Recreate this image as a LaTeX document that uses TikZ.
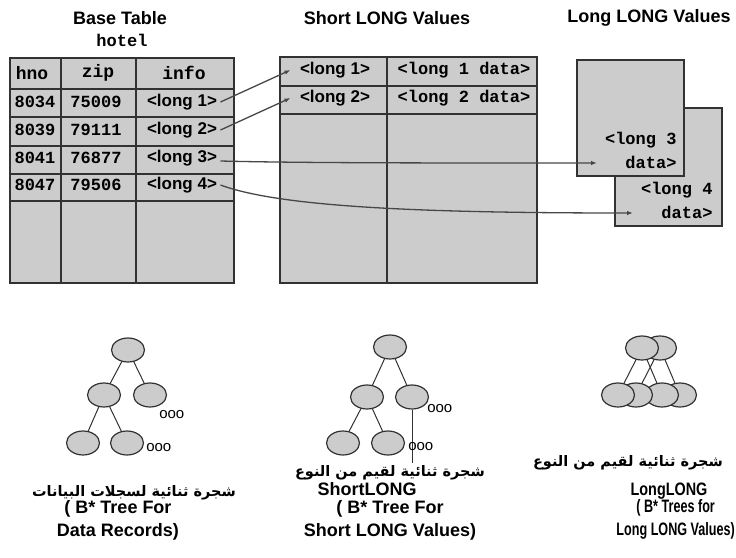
\documentclass[tikz,border=0pt]{standalone}
\usepackage{fontspec}
\setmainfont{Liberation Sans}
\newfontfamily\monofont{Liberation Mono}
\newfontfamily\arabicfont[Script=Arabic]{DejaVu Sans}
\TeXXeTstate=1
\usetikzlibrary{arrows.meta,shapes.geometric}

\definecolor{boxfill}{RGB}{204,204,204}
\definecolor{boxline}{RGB}{50,50,50}

\tikzset{
  title/.style={font=\bfseries\fontsize{18}{19}\selectfont},
  numcell/.style={font=\monofont\bfseries\fontsize{17}{24}\selectfont},
  headcell/.style={font=\monofont\bfseries\fontsize{18}{19}\selectfont},
  keycell/.style={font=\bfseries\fontsize{17}{18}\selectfont},
  tbl/.style={fill=boxfill, draw=boxline, line width=1.3pt},
  link/.style={draw=boxline!90, line width=1.3pt, -{Latex[length=6pt,width=4.5pt]}},
  leaf/.style={ellipse, draw=boxline, line width=1.2pt, fill=boxfill,
    minimum width=33pt, minimum height=24pt, inner sep=0pt},
  dots/.style={font=\fontsize{15}{15}\selectfont, inner sep=0pt},
  arab/.style={font=\arabicfont\bfseries\fontsize{14.5}{16}\selectfont, inner sep=0pt},
  caption/.style={font=\bfseries\fontsize{18}{23}\selectfont, align=center, inner sep=0pt}
}

\begin{document}
\begin{tikzpicture}[x=1pt, y=-1pt]
    \useasboundingbox (0,0) rectangle (736,557);

    % titles
    \node[title] (ttbase) at (120,18) {Base Table};
    \node[numcell] (tthotel) at (122,40) {hotel};
    \node[title] (ttshort) at (387,18) {Short LONG Values};
    \node[title] (ttlong) at (649,18) {Long LONG Values};

    % base table
    \draw[tbl] (10,58) rectangle (234,283);
    \draw[tbl] (61,58) -- (61,283);
    \draw[tbl] (136,58) -- (136,283);
    \foreach \y in {89,117,146,174,201}
        \draw[tbl] (10,\y) -- (234,\y);

    \node[headcell] (hno) at (32,73) {hno};
    \node[headcell] (zip) at (98,73) {zip};
    \node[headcell] (info) at (184,73) {info};

    \node[numcell] (n1) at (35,102) {8034};
    \node[numcell] (z1) at (96,102) {75009};
    \node[keycell] (i1) at (182,102) {<long 1>};
    \node[numcell] (n2) at (35,130) {8039};
    \node[numcell] (z2) at (96,130) {79111};
    \node[keycell] (i2) at (182,130) {<long 2>};
    \node[numcell] (n3) at (35,158) {8041};
    \node[numcell] (z3) at (96,158) {76877};
    \node[keycell] (i3) at (182,158) {<long 3>};
    \node[numcell] (n4) at (35,185) {8047};
    \node[numcell] (z4) at (96,185) {79506};
    \node[keycell] (i4) at (182,185) {<long 4>};

    % short LONG table
    \draw[tbl] (280,57) rectangle (537,283);
    \draw[tbl] (387,57) -- (387,283);
    \draw[tbl] (280,86) -- (537,86);
    \draw[tbl] (280,114) -- (537,114);

    \node[keycell] (s1) at (335,70) {<long 1>};
    \node[numcell] (sd1) at (464,70) {<long 1 data>};
    \node[keycell] (s2) at (335,98) {<long 2>};
    \node[numcell] (sd2) at (464,98) {<long 2 data>};

    % long LONG pages
    \draw[tbl] (615,108) rectangle (722,226);
    \draw[tbl] (577,60) rectangle (684,176);
    \node[numcell, align=right, anchor=east] (ld3) at (680,150) {<long 3\\data>};
    \node[numcell, align=right, anchor=east] (ld4) at (716,200) {<long 4\\data>};
    \coordinate (e3) at (597,163);
    \coordinate (e4) at (633,213);

    % pointers
    \draw[link] (i1.east) -- ([xshift=-6pt]s1.west);
    \draw[link] (i2.east) -- ([xshift=-6pt]s2.west);
    \draw[link] ([yshift=-3pt]i3.east) .. controls (300,163) and (420,163) .. (e3);
    \draw[link] (i4.east) .. controls (280,207) and (420,213) .. (e4);

    % tree for data records
    \draw[boxline, line width=1pt] (128,350) -- (104,395) (128,350) -- (150,395)
        (104,395) -- (83,443) (104,395) -- (127,443);
    \node[leaf] (r1) at (128,350) {};
    \node[leaf] (a1) at (104,395) {};
    \node[leaf] (b1) at (150,395) {};
    \node[leaf] (c1) at (83,443) {};
    \node[leaf] (d1) at (127,443) {};
    \node[dots, anchor=west] (o1) at ([xshift=-8pt,yshift=-20pt]b1.east) {ooo};
    \node[dots, anchor=west] (o2) at ([xshift=2pt,yshift=-5pt]d1.east) {ooo};

    \node[arab] (ar1) at (134,493) {\beginR شجرة ثنائية لسجلات البيانات\endR};
    \node[caption] (cp1) at (118,520) {( B* Tree For\\Data Records)};

    % tree for short LONG values
    \draw[boxline, line width=1pt] (390,347) -- (367,397) (390,347) -- (412,397)
        (367,397) -- (343,443) (367,397) -- (388,443);
    \coordinate (v2) at (412,463);
    \node[leaf] (r2) at (390,347) {};
    \node[leaf] (a2) at (367,397) {};
    \node[leaf] (b2) at (412,397) {};
    \node[leaf] (c2) at (343,443) {};
    \node[leaf] (d2) at (388,443) {};
    \draw[boxline, line width=1pt] (b2.south) -- (v2);
    \node[dots, anchor=west] (o3) at ([xshift=-2pt,yshift=-12pt]b2.east) {ooo};
    \node[dots, anchor=west] (o4) at ([xshift=3pt,yshift=-4pt]d2.east) {ooo};

    \node[arab] (ar2) at (390,473) {\beginR شجرة ثنائية لقيم من النوع\endR};
    \node[caption] (cp2a) at (367,489) {ShortLONG};
    \node[caption] (cp2) at (390,520) {( B* Tree For\\Short LONG Values)};

    % trees for long LONG values
    \draw[boxline, line width=1pt] (642,348) -- (618,395) (660,348) -- (636,395)
        (642,348) -- (662,395) (660,348) -- (680,395);
    \node[leaf] (t2) at (660,348) {};
    \node[leaf] (t1) at (642,348) {};
    \node[leaf] (g4) at (680,395) {};
    \node[leaf] (g3) at (662,395) {};
    \node[leaf] (g2) at (636,395) {};
    \node[leaf] (g1) at (618,395) {};

    \node[arab] (ar3) at (628,463) {\beginR شجرة ثنائية لقيم من النوع\endR};
    \node[caption] (cp3a) at (669,491) {\scalebox{0.8}[1]{LongLONG}};
    \node[caption, anchor=east] (cp3) at (735,519) {\scalebox{0.7}[1]{( B* Trees for}\\\scalebox{0.7}[1]{Long LONG Values)}};

\end{tikzpicture}
\end{document}
